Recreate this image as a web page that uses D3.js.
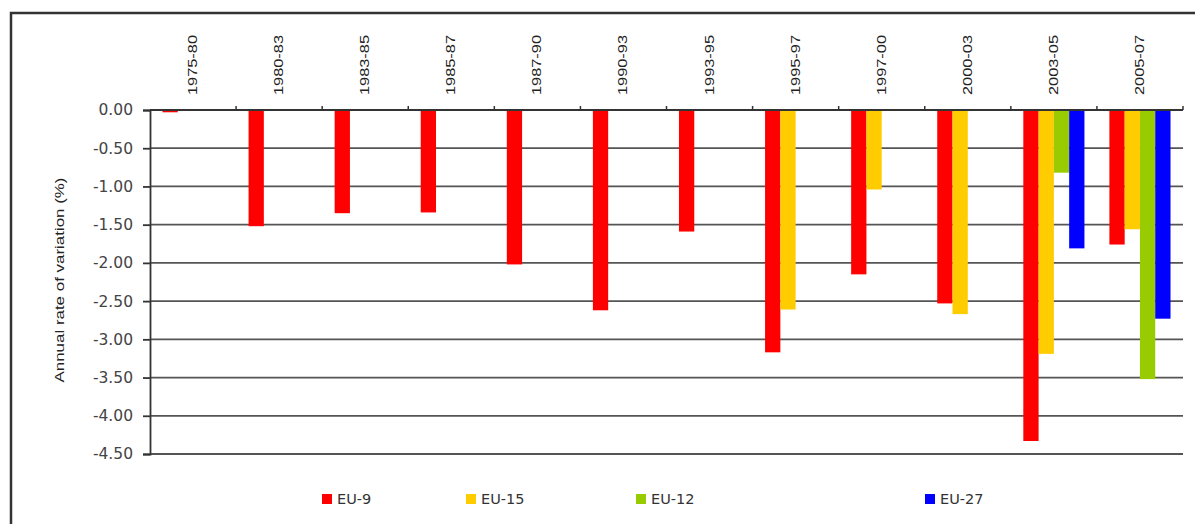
<!DOCTYPE html>
<html>
<head>
<meta charset="utf-8">
<script src="https://cdn.jsdelivr.net/npm/d3@7"></script>
<style>
  body { margin: 0; background: #fff; }
  svg { display: block; }
</style>
</head>
<body>
<div id="chart"></div>
<script>
// data
const periods = ['1975-80', '1980-83', '1983-85', '1985-87', '1987-90', '1990-93',
  '1993-95', '1995-97', '1997-00', '2000-03', '2003-05', '2005-07'];
const seriesNames = ['EU-9', 'EU-15', 'EU-12', 'EU-27'];
const eu9  = [-0.03, -1.52, -1.35, -1.34, -2.02, -2.62, -1.59, -3.17, -2.15, -2.53, -4.33, -1.76];
const eu15 = [null, null, null, null, null, null, null, -2.61, -1.04, -2.67, -3.19, -1.56];
const eu12 = [null, null, null, null, null, null, null, null, null, null, -0.82, -3.52];
const eu27 = [null, null, null, null, null, null, null, null, null, null, -1.81, -2.73];
const yTicks = [0, -0.5, -1, -1.5, -2, -2.5, -3, -3.5, -4, -4.5];
const colors = ['#ff0000', '#ffcc00', '#99cc00', '#0000ff'];

let W = 1195, H = 524;
let margin = {top: 110, left: 150, right: 12, bottom: 70};
let width = 1183 - margin.left;
let height = 454 - margin.top;

let svg = d3.select('#chart').append('svg')
  .attr('width', W).attr('height', H);

// outer frame (cut off at right and bottom)
svg.append('path')
  .attr('d', `M11,${H + 5}V13H${W + 5}`)
  .attr('fill', 'none').attr('stroke', '#333').attr('stroke-width', 2.5);

let g = svg.append('g').attr('transform', `translate(${margin.left},${margin.top})`);

let x0 = d3.scaleBand().domain(periods).range([0, width]).paddingInner(0.29).paddingOuter(0.145);
let x1 = d3.scaleBand().domain(seriesNames).range([0, x0.bandwidth()]);
let y = d3.scaleLinear().domain([0, -4.5]).range([0, height]);

// grid lines
g.selectAll('.grid').data(yTicks.slice(1)).enter().append('line')
  .attr('x1', 0).attr('x2', width)
  .attr('y1', d => y(d)).attr('y2', d => y(d))
  .attr('stroke', '#555').attr('stroke-width', 1.8);

// bars
let table = [eu9, eu15, eu12, eu27];
let rows = [];
periods.forEach((p, i) => {
  seriesNames.forEach((s, j) => {
    if (table[j][i] !== null) rows.push({period: p, series: s, value: table[j][i], c: colors[j]});
  });
});
g.selectAll('.bar').data(rows).enter().append('rect')
  .attr('x', d => x0(d.period) + x1(d.series))
  .attr('width', x1.bandwidth())
  .attr('y', y(0))
  .attr('height', d => y(d.value) - y(0))
  .attr('fill', d => d.c);

// y axis (plain hyphen for the minus sign, as in the original)
let fmt = d3.format('.2f');
let yAxis = g.append('g')
  .call(d3.axisLeft(y).tickValues(yTicks)
    .tickFormat(d => fmt(d).replace('\u2212', '-'))
    .tickSize(7).tickPadding(10));
yAxis.select('.domain').attr('stroke', '#333').attr('stroke-width', 1.8);
yAxis.selectAll('.tick line').attr('stroke', '#333').attr('stroke-width', 1.8);
yAxis.selectAll('text')
  .attr('fill', '#444')
  .style('font', '15.5px "DejaVu Sans", sans-serif');

// top axis at zero, ticks at band boundaries
let edges = periods.map(p => x0(p) - x0.step() * x0.paddingInner() / 2).concat([width]);
g.selectAll('.xt').data(edges.slice(1)).enter().append('line')
  .attr('x1', d => d).attr('x2', d => d).attr('y1', 0).attr('y2', -4)
  .attr('stroke', '#333').attr('stroke-width', 1.5);
g.append('line').attr('x1', 0).attr('x2', width).attr('y1', 0).attr('y2', 0)
  .attr('stroke', '#333').attr('stroke-width', 2);

// rotated period labels
g.selectAll('.xl').data(periods).enter().append('text')
  .attr('transform', d => `translate(${x0(d) + x0.bandwidth() / 2 + 4},-15) rotate(-90)`)
  .attr('text-anchor', 'start')
  .attr('textLength', 60)
  .attr('lengthAdjust', 'spacingAndGlyphs')
  .style('font', '12px "Liberation Sans", Arial, sans-serif')
  .attr('fill', '#222')
  .text(d => d);

// y title
svg.append('text')
  .attr('transform', `translate(${64},${280}) rotate(-90)`)
  .attr('text-anchor', 'middle')
  .attr('textLength', 205)
  .attr('lengthAdjust', 'spacingAndGlyphs')
  .style('font', '12px "Liberation Sans", Arial, sans-serif')
  .attr('fill', '#222')
  .text('Annual rate of variation (%)');

// legend
const legendX = [322, 466, 636, 925];
let leg = svg.selectAll('.leg').data(seriesNames).enter().append('g')
  .attr('transform', (d, i) => `translate(${legendX[i]},494)`);
leg.append('rect').attr('width', 10).attr('height', 10).attr('fill', (d, i) => colors[i]);
leg.append('text').attr('x', 15).attr('y', 10)
  .style('font', '14.5px "DejaVu Sans", sans-serif')
  .attr('fill', '#333')
  .text(d => d);
</script>
</body>
</html>
